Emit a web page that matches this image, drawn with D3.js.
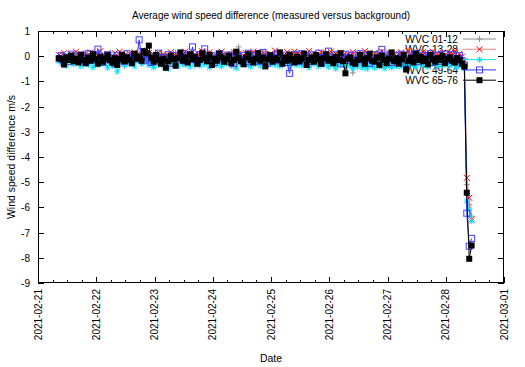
<!DOCTYPE html>
<html><head><meta charset="utf-8">
<script src="https://cdn.jsdelivr.net/npm/d3@7/dist/d3.min.js"></script>
<style>body{margin:0;background:#fff}svg{display:block}text{font-family:"Liberation Sans",Arial,sans-serif;fill:#000}</style>
</head><body><svg id="c" width="525" height="367"></svg>
<script>
// ---- data ----
const seriesNames = ["WVC 01-12","WVC 13-28","WVC 29-48","WVC 49-64","WVC 65-76"];
const startTime = Date.UTC(2021,1,21,8,40);   // first sample
const stepMinutes = 60;                        // sampling interval
const xTickLabels = ["2021-02-21","2021-02-22","2021-02-23","2021-02-24","2021-02-25","2021-02-26","2021-02-27","2021-02-28","2021-03-01"];
const yTickLabels = [1,0,-1,-2,-3,-4,-5,-6,-7,-8,-9];

const wvc01_12 = [-0.05,-0.18,0.10,-0.25,-0.08,0.02,-0.30,-0.12,0.06,-0.20,
-0.10,0.12,-0.28,-0.02,-0.15,0.08,-0.35,-0.06,0.04,-0.22,
-0.12,0.15,-0.05,-0.30,-0.10,0.05,-0.18,-0.40,0.00,-0.14,
0.08,-0.22,-0.06,0.12,-0.30,-0.10,0.02,-0.16,-0.25,0.06,
-0.12,-0.35,0.10,-0.05,-0.20,0.04,-0.28,-0.08,0.14,-0.18,
-0.02,-0.30,0.08,-0.12,-0.22,0.02,-0.38,-0.06,0.10,-0.15,
0.00,-0.25,0.12,-0.10,-0.02,-0.18,-0.05,-0.32,0.06,-0.12,
-0.22,0.08,-0.04,-0.28,0.37,-0.10,-0.18,0.02,-0.35,-0.08,
0.10,-0.15,-0.25,0.04,-0.12,0.18,-0.30,-0.05,0.06,-0.20,
-0.10,0.12,-0.35,-0.02,-0.18,0.08,-0.28,-0.08,0.15,-0.12,
-0.22,0.05,-0.15,-0.42,-0.05,0.10,-0.20,-0.10,0.02,-0.30,
-0.08,0.12,-0.18,-0.25,0.04,-0.12,-0.35,-0.06,0.08,-0.10,
-0.15,-0.66,-0.25,-0.10,0.10,-0.30,-0.05,-0.18,0.06,-0.22,
-0.12,0.14,-0.28,-0.08,-0.20,0.04,-0.35,-0.10,0.12,-0.15,
-0.25,0.06,-0.12,-0.32,0.08,-0.18,-0.05,-0.28,0.10,-0.10,
-0.20,0.02,-0.15,-0.38,-0.06,0.12,-0.22,-0.10,0.04,-0.30,
-0.12,0.08,-0.18,-0.05,-0.25,0.02,-0.15,-0.35,
-5.10,-5.90,-6.35];

const wvc13_28 = [0.05,-0.10,0.12,-0.02,-0.15,0.08,-0.05,0.18,-0.08,0.02,
-0.12,0.10,-0.04,0.15,-0.18,0.05,-0.08,0.20,-0.02,-0.10,
0.08,-0.15,0.02,0.12,-0.06,0.18,-0.10,0.04,-0.20,0.10,
-0.05,0.15,-0.12,0.06,0.22,-0.08,0.02,0.12,-0.15,0.05,
-0.02,0.14,-0.10,0.08,-0.18,0.03,0.16,-0.06,0.10,-0.12,
0.05,-0.08,0.18,-0.02,0.10,-0.15,0.06,0.12,-0.05,0.20,
-0.10,0.04,0.15,-0.08,0.02,-0.14,0.10,0.18,-0.06,0.08,
-0.12,0.05,0.16,-0.04,0.10,-0.18,0.02,0.12,-0.08,0.06,
0.18,-0.10,0.04,0.14,-0.06,0.08,-0.15,0.10,0.02,0.22,
-0.05,0.12,-0.12,0.06,0.16,-0.08,0.03,0.18,-0.10,0.05,
0.10,-0.15,0.08,0.20,-0.04,0.12,-0.10,0.02,0.15,-0.06,
0.06,-0.12,0.18,-0.02,0.10,-0.08,0.14,0.04,-0.15,0.08,
0.02,0.16,-0.06,0.10,-0.12,0.05,0.20,-0.04,0.08,-0.10,
0.12,-0.02,0.06,0.18,-0.08,0.04,0.14,-0.12,0.10,0.02,
-0.06,0.15,0.05,-0.10,0.20,0.02,-0.08,0.12,0.06,-0.04,
0.16,-0.10,0.08,0.02,0.18,-0.06,0.10,-0.12,0.14,0.04,
-0.08,0.12,0.02,0.20,-0.05,0.10,-0.02,-0.20,
-4.83,-5.62,-6.48];

const wvc29_48 = [-0.20,-0.30,-0.15,-0.38,-0.22,-0.10,-0.32,-0.25,-0.18,-0.40,
-0.28,-0.12,-0.35,-0.22,-0.45,-0.30,-0.18,-0.26,-0.30,-0.22,
-0.46,-0.20,-0.38,-0.15,-0.62,-0.28,-0.22,-0.35,-0.12,-0.30,
-0.25,-0.40,-0.18,-0.08,-0.30,-0.22,-0.15,-0.35,-0.28,-0.45,
-0.20,-0.32,-0.12,-0.38,-0.25,-0.50,-0.18,-0.30,-0.22,-0.40,
-0.15,-0.28,-0.35,-0.20,-0.42,-0.10,-0.30,-0.25,-0.38,-0.18,
-0.32,-0.22,-0.45,-0.15,-0.28,-0.36,-0.20,-0.40,-0.12,-0.30,
-0.25,-0.38,-0.18,-0.48,-0.22,-0.30,-0.15,-0.35,-0.26,-0.42,
-0.20,-0.32,-0.10,-0.38,-0.28,-0.45,-0.22,-0.30,-0.18,-0.36,
-0.25,-0.40,-0.15,-0.30,-0.22,-0.42,-0.28,-0.18,-0.35,-0.25,
-0.38,-0.20,-0.30,-0.45,-0.15,-0.32,-0.25,-0.40,-0.22,-0.35,
-0.28,-0.42,-0.18,-0.36,-0.50,-0.25,-0.32,-0.20,-0.45,-0.30,
-0.38,-0.48,-0.35,-0.42,-0.30,-0.45,-0.38,-0.50,-0.32,-0.40,
-0.46,-0.35,-0.42,-0.28,-0.48,-0.38,-0.30,-0.45,-0.35,-0.40,
-0.25,-0.42,-0.32,-0.38,-0.20,-0.35,-0.28,-0.45,-0.22,-0.30,
-0.38,-0.25,-0.42,-0.18,-0.32,-0.28,-0.40,-0.22,-0.35,-0.30,
-0.25,-0.38,-0.20,-0.32,-0.45,-0.28,-0.35,-0.48,
-5.75,-6.10,-6.55];

const wvc49_64 = [-0.10,0.02,-0.15,-0.05,-0.22,0.08,-0.12,-0.02,-0.18,0.05,
-0.08,-0.20,0.10,-0.05,-0.15,0.02,0.28,-0.10,-0.25,-0.04,
0.06,-0.14,-0.08,-0.30,0.04,-0.12,-0.02,-0.20,0.10,-0.06,
-0.15,0.02,-0.10,0.65,-0.05,-0.18,0.08,-0.12,-0.25,0.00,
-0.08,0.12,-0.20,-0.05,-0.15,0.06,-0.28,-0.10,0.02,-0.12,
-0.05,0.10,-0.18,0.04,-0.08,0.37,-0.14,-0.22,0.06,-0.10,
0.29,-0.05,-0.16,0.02,-0.25,-0.08,0.10,-0.12,-0.02,-0.20,
0.05,-0.10,-0.30,0.08,-0.06,-0.15,0.02,-0.22,0.12,-0.08,
-0.12,0.04,-0.20,-0.05,0.15,-0.10,-0.28,0.02,-0.14,-0.06,
0.08,-0.18,-0.08,0.04,-0.25,-0.68,-0.12,0.06,-0.05,-0.20,
0.10,-0.10,-0.02,-0.22,0.05,-0.15,-0.08,0.12,-0.28,-0.05,
0.02,0.20,-0.12,-0.20,0.06,-0.10,-0.30,-0.04,0.08,-0.16,
-0.08,0.04,-0.22,-0.12,0.10,-0.05,-0.18,0.02,-0.28,-0.10,
0.06,-0.15,-0.05,0.27,-0.20,-0.08,0.04,-0.25,-0.12,0.02,
-0.18,0.08,-0.10,-0.30,0.05,-0.14,-0.04,0.12,-0.22,-0.08,
0.02,-0.16,-0.06,0.10,-0.25,-0.12,0.04,-0.20,-0.05,0.08,
-0.15,-0.08,0.06,-0.22,-0.10,0.02,-0.18,-0.35,
-6.23,-7.54,-7.23];

const wvc65_76 = [-0.08,-0.12,-0.33,-0.05,-0.15,0.02,-0.20,-0.10,-0.25,0.05,
-0.15,-0.28,-0.06,-0.18,0.08,-0.12,-0.30,-0.02,-0.22,-0.10,
0.04,-0.16,-0.26,-0.08,-0.35,-0.12,0.06,-0.20,-0.05,-0.14,
-0.28,0.10,-0.10,-0.02,-0.18,0.20,0.12,0.42,-0.06,-0.22,
0.05,-0.15,-0.30,-0.10,-0.46,-0.20,0.02,-0.12,-0.38,-0.08,
0.15,-0.18,-0.05,-0.25,0.08,-0.12,-0.02,-0.30,-0.15,0.12,
-0.08,-0.20,0.05,-0.35,-0.10,-0.18,0.10,-0.05,-0.22,-0.12,
0.02,-0.28,-0.15,0.18,-0.08,-0.20,-0.32,-0.05,0.08,-0.15,
-0.25,-0.10,0.12,-0.18,-0.06,-0.40,-0.12,0.04,-0.22,-0.08,
-0.15,0.15,-0.30,-0.05,-0.18,0.06,-0.12,-0.25,-0.02,-0.20,
-0.10,0.10,-0.35,-0.15,-0.05,-0.22,0.05,-0.12,-0.30,-0.08,
0.08,-0.18,-0.10,-0.28,-0.02,-0.15,0.12,-0.20,-0.68,-0.10,
-0.05,-0.25,-0.30,-0.15,0.05,-0.12,-0.30,-0.08,0.10,-0.18,
-0.22,-0.05,-0.35,0.02,-0.15,-0.28,-0.10,0.15,-0.20,-0.08,
-0.30,-0.12,0.05,-0.53,-0.18,-0.06,-0.25,0.10,-0.15,-0.02,
-0.20,-0.10,-0.32,0.05,-0.12,-0.22,-0.08,-0.15,0.02,-0.28,
-0.12,-0.05,-0.18,-0.25,-0.08,-0.15,-0.30,-0.42,
-5.42,-8.04,-7.51];

const seriesValues = [wvc01_12, wvc13_28, wvc29_48, wvc49_64, wvc65_76];

// ---- layout / style ----
const L=38, R=504, T=31, B=283;
const svg = d3.select("#c");
const parse = d3.utcParse("%Y-%m-%d");
const x = d3.scaleUtc().domain([parse(xTickLabels[0]), parse(xTickLabels[xTickLabels.length-1])]).range([L,R]);
const y = d3.scaleLinear().domain([d3.min(yTickLabels), d3.max(yTickLabels)]).range([B,T]);

const styles = [
  {line:"#a0a0a0", lop:0.8, lw:1.3, mk:"#909090", shape:"plus"},
  {line:"#ff6060", lop:0.6, lw:1.3, mk:"#ff0000", shape:"cross"},
  {line:"#00e8e8", lop:1,   lw:1,   mk:"#00e0ff", shape:"star"},
  {line:"#3030ff", lop:1,   lw:1,   mk:"#4040ff", shape:"osq"},
  {line:"#000000", lop:1,   lw:1,   mk:"#000000", shape:"fsq"}
];
const shapes = {
  plus:"M-3,0H3M0,-3V3",
  cross:"M-3,-3L3,3M-3,3L3,-3",
  star:"M-3,0H3M0,-3V3M-2.5,-2.5L2.5,2.5M-2.5,2.5L2.5,-2.5"
};
function drawMarker(g, shape, color, cx, cy){
  if(shape==="osq") g.append("rect").attr("x",cx-3).attr("y",cy-3).attr("width",6).attr("height",6).attr("fill","none").attr("stroke",color).attr("stroke-width",1);
  else if(shape==="fsq") g.append("rect").attr("x",cx-3).attr("y",cy-3).attr("width",6).attr("height",6).attr("fill",color);
  else g.append("path").attr("d",shapes[shape]).attr("transform",`translate(${cx},${cy})`).attr("fill","none").attr("stroke",color).attr("stroke-width",1);
}

// title
svg.append("text").attr("x",(L+R)/2).attr("y",19).attr("text-anchor","middle").attr("font-size",10)
  .text("Average wind speed difference (measured versus background)");

// axis labels
svg.append("text").attr("transform",`translate(15,${(T+B)/2}) rotate(-90)`).attr("text-anchor","middle").attr("font-size",10.5).text("Wind speed difference m/s");
svg.append("text").attr("x",(L+R)/2).attr("y",362).attr("text-anchor","middle").attr("font-size",10.5).text("Date");

// y ticks
const axg = svg.append("g").attr("stroke","#000").attr("stroke-width",1).attr("shape-rendering","crispEdges");
yTickLabels.forEach(v=>{
  const yy = Math.round(y(v))+0.5;
  axg.append("line").attr("x1",L).attr("x2",L+6).attr("y1",yy).attr("y2",yy);
  axg.append("line").attr("x1",R-6).attr("x2",R).attr("y1",yy).attr("y2",yy);
  svg.append("text").attr("x",L-8).attr("y",yy+3.5).attr("text-anchor","end").attr("font-size",10).text(v);
});
// x ticks (major days, minor 6h)
x.ticks(d3.utcHour.every(6)).forEach(d=>{
  const xx = Math.round(x(d))+0.5;
  const major = d.getUTCHours()===0;
  const len = major?6:3;
  axg.append("line").attr("x1",xx).attr("x2",xx).attr("y1",B).attr("y2",B-len);
  axg.append("line").attr("x1",xx).attr("x2",xx).attr("y1",T).attr("y2",T+len);
});
xTickLabels.forEach(s=>{
  const xx = x(parse(s));
  svg.append("text").attr("transform",`translate(${xx+3.5},${B+6}) rotate(-90)`).attr("text-anchor","end").attr("font-size",10).text(s);
});

// legend text (drawn under the data)
const legY = [39,49.3,59.6,69.9,80.2];
seriesNames.forEach((n,k)=>{
  svg.append("text").attr("x",458).attr("y",legY[k]+3.6).attr("text-anchor","end").attr("font-size",10.2).text(n);
});

// data
const plot = svg.append("g");
seriesValues.forEach((vals,k)=>{
  const st = styles[k];
  const pts = vals.map((v,i)=>[x(new Date(startTime+i*stepMinutes*60000)), y(v)]);
  plot.append("path").attr("d",d3.line()(pts)).attr("fill","none").attr("stroke",st.line).attr("stroke-opacity",st.lop).attr("stroke-width",st.lw);
  const mg = plot.append("g");
  pts.forEach(p=>drawMarker(mg, st.shape, st.mk, p[0], p[1]));
  // legend sample
  svg.append("line").attr("x1",463).attr("x2",496).attr("y1",legY[k]).attr("y2",legY[k]).attr("stroke",st.line).attr("stroke-opacity",st.lop).attr("stroke-width",st.lw);
  drawMarker(svg.append("g"), st.shape, st.mk, 479.5, legY[k]);
});

// frame
svg.append("rect").attr("x",L+0.5).attr("y",T+0.5).attr("width",R-L-1).attr("height",B-T-1)
  .attr("fill","none").attr("stroke","#000").attr("stroke-width",1).attr("shape-rendering","crispEdges");
</script></body></html>
